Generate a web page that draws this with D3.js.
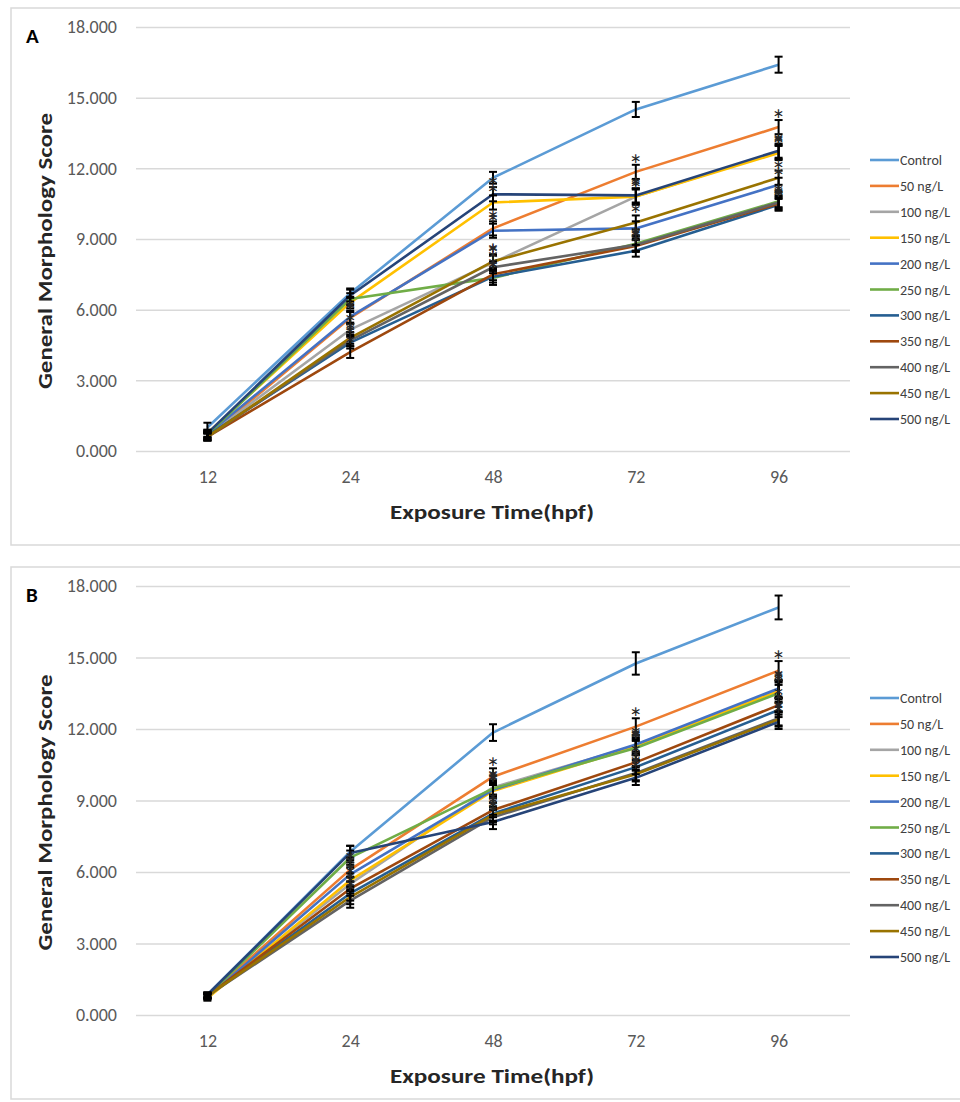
<!DOCTYPE html>
<html>
<head>
<meta charset="utf-8">
<script src="https://cdn.jsdelivr.net/npm/d3@7"></script>
<style>
  body { margin: 0; background: #fff; }
  svg text { font-family: Carlito, "Open Sans", sans-serif; }
</style>
</head>
<body>
<svg id="chart" width="960" height="1102"></svg>
<script>
// --- data --- \\
var times = ["12", "24", "48", "72", "96"];
var seriesNames = ["Control", "50 ng/L", "100 ng/L", "150 ng/L", "200 ng/L", "250 ng/L",
	"300 ng/L", "350 ng/L", "400 ng/L", "450 ng/L", "500 ng/L"];
var seriesColors = ["#5B9BD5", "#ED7D31", "#A5A5A5", "#FFC000", "#4472C4", "#70AD47",
	"#255E91", "#9E480E", "#636363", "#997300", "#264478"];
var yTicks = [0, 3, 6, 9, 12, 15, 18];

// panel A, one row per series (same order as seriesNames)
var scoresA = [
	[1.0, 6.7, 11.6, 14.5, 16.4],
	[0.6, 5.65, 9.45, 11.85, 13.75],
	[0.65, 5.15, 8.0, 10.8, 12.7],
	[0.75, 6.3, 10.55, 10.8, 12.65],
	[0.7, 5.7, 9.35, 9.45, 11.3],
	[0.7, 6.45, 7.35, 8.8, 10.6],
	[0.65, 4.6, 7.4, 8.5, 10.45],
	[0.6, 4.2, 7.5, 8.7, 10.5],
	[0.6, 4.7, 7.8, 8.75, 10.55],
	[0.6, 4.8, 8.05, 9.7, 11.6],
	[0.75, 6.6, 10.9, 10.85, 12.75]
];
var errorsA = [
	[0.2, 0.2, 0.25, 0.32, 0.34],
	[0.15, 0.25, 0.3, 0.3, 0.3],
	[0.15, 0.25, 0.3, 0.3, 0.3],
	[0.15, 0.25, 0.3, 0.35, 0.3],
	[0.15, 0.25, 0.3, 0.3, 0.3],
	[0.15, 0.25, 0.3, 0.3, 0.25],
	[0.15, 0.25, 0.25, 0.25, 0.25],
	[0.15, 0.25, 0.25, 0.25, 0.25],
	[0.15, 0.25, 0.25, 0.25, 0.25],
	[0.15, 0.25, 0.3, 0.3, 0.3],
	[0.15, 0.25, 0.3, 0.3, 0.3]
];
// time indexes that carry an asterisk
var starsA = [[], [1, 2, 3, 4], [1, 2, 3, 4], [2, 3, 4], [1, 2, 4], [2, 3, 4],
	[1, 2, 3, 4], [1, 2, 3, 4], [1, 2, 3, 4], [1, 2, 3, 4], [2, 3, 4]];

// panel B
var scoresB = [
	[0.85, 6.85, 11.85, 14.75, 17.1],
	[0.8, 6.1, 10.0, 12.1, 14.45],
	[0.8, 5.5, 9.55, 11.3, 13.65],
	[0.7, 5.65, 9.4, 11.25, 13.6],
	[0.75, 5.9, 9.45, 11.35, 13.7],
	[0.8, 6.6, 9.5, 11.2, 13.5],
	[0.8, 5.1, 8.45, 10.4, 12.8],
	[0.8, 5.3, 8.6, 10.6, 13.0],
	[0.8, 4.8, 8.3, 10.15, 12.45],
	[0.8, 4.95, 8.4, 10.1, 12.4],
	[0.85, 6.8, 8.1, 9.95, 12.3]
];
var errorsB = [
	[0.1, 0.25, 0.35, 0.47, 0.5],
	[0.1, 0.3, 0.35, 0.35, 0.4],
	[0.1, 0.3, 0.3, 0.3, 0.35],
	[0.1, 0.3, 0.3, 0.3, 0.35],
	[0.1, 0.3, 0.3, 0.3, 0.35],
	[0.1, 0.3, 0.3, 0.3, 0.35],
	[0.1, 0.3, 0.3, 0.3, 0.3],
	[0.1, 0.3, 0.3, 0.3, 0.3],
	[0.1, 0.3, 0.3, 0.3, 0.3],
	[0.1, 0.3, 0.3, 0.3, 0.3],
	[0.1, 0.3, 0.3, 0.3, 0.3]
];
var starsB = [[], [1, 2, 3, 4], [1, 2, 3, 4], [1, 2, 3, 4], [1, 2, 3, 4], [2, 3, 4],
	[1, 2, 3, 4], [1, 2, 3, 4], [1, 2, 3, 4], [1, 2, 3, 4], [2, 3, 4]];

var svg = d3.select("#chart");

// draws one framed panel
function drawPanel(opt) {
	var g = svg.append("g");

	// outer frame
	g.append("rect")
		.attr("x", 11).attr("y", opt.boxTop)
		.attr("width", 960).attr("height", opt.boxHeight)
		.attr("fill", "none").attr("stroke", "#d9d9d9").attr("stroke-width", 1.5);

	var x = d3.scalePoint().domain(times).range([136, 850]).padding(0.5);
	var y = d3.scaleLinear().domain([0, 18]).range([opt.zeroY, opt.topY]);

	// gridlines + y labels
	var yAxis = g.append("g")
		.attr("transform", "translate(136,0)")
		.call(d3.axisLeft(y).tickValues(yTicks).tickSize(-714).tickPadding(19)
			.tickFormat(d3.format(".3f")));
	yAxis.select(".domain").remove();
	yAxis.selectAll(".tick line").attr("stroke", "#d9d9d9").attr("stroke-width", 1.5);
	yAxis.selectAll(".tick text").attr("fill", "#595959").style("font-size", "18px");

	// x labels
	var xAxis = g.append("g")
		.attr("transform", "translate(0," + opt.zeroY + ")")
		.call(d3.axisBottom(x).tickSize(0).tickPadding(19));
	xAxis.select(".domain").remove();
	xAxis.selectAll(".tick text").attr("fill", "#595959").style("font-size", "18px");

	// axis titles
	g.append("text")
		.attr("x", 492).attr("y", opt.zeroY + 68)
		.attr("text-anchor", "middle")
		.attr("textLength", 204).attr("lengthAdjust", "spacingAndGlyphs")
		.style("font-size", "20px").style("font-weight", "bold").attr("fill", "#262626")
		.text("Exposure Time(hpf)");
	var yMid = (opt.zeroY + opt.topY) / 2 + 12;
	g.append("text")
		.attr("transform", "translate(52," + yMid + ") rotate(-90)")
		.attr("text-anchor", "middle")
		.attr("textLength", 276).attr("lengthAdjust", "spacingAndGlyphs")
		.style("font-size", "20px").style("font-weight", "bold").attr("fill", "#262626")
		.text("General Morphology Score");

	// panel letter
	g.append("text")
		.attr("x", 26).attr("y", opt.boxTop + 35)
		.style("font-size", "21px").style("font-weight", "bold").attr("fill", "#000")
		.text(opt.letter);

	var line = d3.line()
		.x(function (d, i) { return x(times[i]); })
		.y(function (d) { return y(d); });

	// lines
	g.append("g").selectAll("path").data(opt.scores).enter().append("path")
		.attr("d", line)
		.attr("fill", "none")
		.attr("stroke", function (d, i) { return seriesColors[i]; })
		.attr("stroke-width", 2.6)
		.attr("stroke-linejoin", "round");

	// error bars and asterisks
	var bars = g.append("g").attr("stroke", "#000").attr("stroke-width", 2);
	opt.scores.forEach(function (row, s) {
		row.forEach(function (v, i) {
			var cx = x(times[i]), e = opt.errors[s][i];
			var y1 = y(v + e), y2 = y(v - e);
			bars.append("line").attr("x1", cx).attr("x2", cx).attr("y1", y1).attr("y2", y2);
			bars.append("line").attr("x1", cx - 4).attr("x2", cx + 4).attr("y1", y1).attr("y2", y1);
			bars.append("line").attr("x1", cx - 4).attr("x2", cx + 4).attr("y1", y2).attr("y2", y2);
			if (opt.stars[s].indexOf(i) >= 0) {
				g.append("text")
					.attr("x", cx).attr("y", y1 + 10)
					.attr("text-anchor", "middle")
					.style("font-size", "28px").attr("fill", "#262626")
					.text("*");
			}
		});
	});

	// legend
	var legend = g.append("g");
	seriesNames.forEach(function (name, i) {
		var ly = opt.legendTop + i * 25.9;
		legend.append("line")
			.attr("x1", 870).attr("x2", 899).attr("y1", ly).attr("y2", ly)
			.attr("stroke", seriesColors[i]).attr("stroke-width", 2.6);
		legend.append("text")
			.attr("x", 900).attr("y", ly + 5)
			.style("font-size", "14px").attr("fill", "#404040")
			.text(name);
	});
}

drawPanel({ letter: "A", boxTop: 8, boxHeight: 537, topY: 27, zeroY: 451, legendTop: 160,
	scores: scoresA, errors: errorsA, stars: starsA });
drawPanel({ letter: "B", boxTop: 567, boxHeight: 532, topY: 586, zeroY: 1015, legendTop: 698,
	scores: scoresB, errors: errorsB, stars: starsB });
</script>
</body>
</html>
